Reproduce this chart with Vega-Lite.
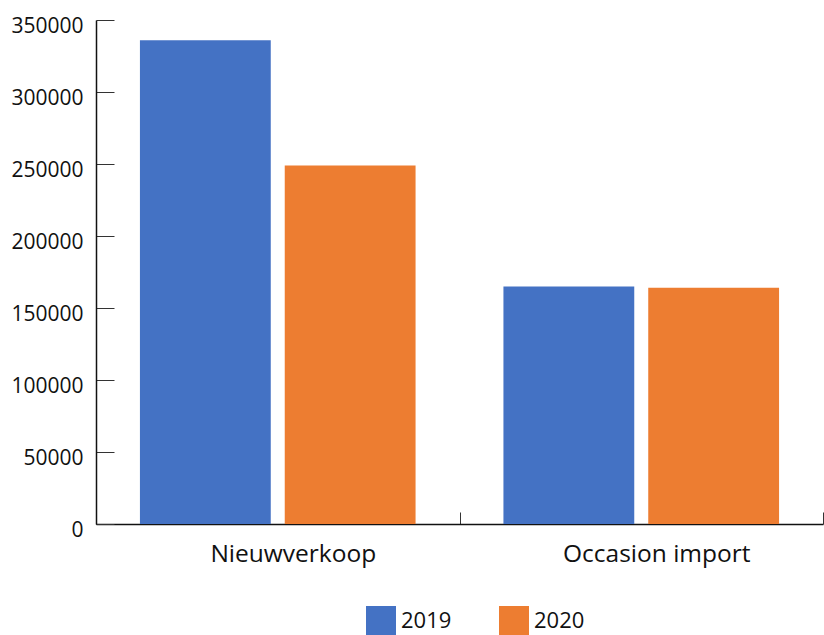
{
  "$schema": "https://vega.github.io/schema/vega-lite/v6.json",
  "autosize": "none",
  "width": 727,
  "height": 504,
  "padding": {"left": 96, "top": 20, "right": 1, "bottom": 111},
  "background": "white",
  "config": {
    "view": {"stroke": null},
    "font": "Open Sans"
  },
  "data": {
    "values": [
      {"categorie": "Nieuwverkoop", "jaar": "2019", "aantal": 336000},
      {"categorie": "Nieuwverkoop", "jaar": "2020", "aantal": 249000},
      {"categorie": "Occasion import", "jaar": "2019", "aantal": 165000},
      {"categorie": "Occasion import", "jaar": "2020", "aantal": 164000}
    ]
  },
  "mark": {"type": "bar"},
  "encoding": {
    "x": {
      "field": "categorie",
      "type": "nominal",
      "sort": null,
      "scale": {"paddingInner": 0, "paddingOuter": 0},
      "axis": {
        "title": null,
        "labelAngle": 0,
        "labelLimit": 0,
        "labelFont": "Open Sans",
        "labelFontSize": 24.5,
        "labelColor": "#111111",
        "labelPadding": 30,
        "labelOffset": 15,
        "tickBand": "extent",
        "tickSize": -12,
        "tickColor": "#333333",
        "domainColor": "#111111",
        "domainWidth": 1.5,
        "grid": false
      }
    },
    "xOffset": {
      "field": "jaar",
      "type": "nominal",
      "scale": {"paddingInner": 0.0966, "paddingOuter": 0.3034}
    },
    "y": {
      "field": "aantal",
      "type": "quantitative",
      "scale": {"domain": [0, 350000], "nice": false},
      "axis": {
        "title": null,
        "values": [0, 50000, 100000, 150000, 200000, 250000, 300000, 350000],
        "format": "d",
        "labelFont": "Open Sans",
        "labelFontSize": 21,
        "labelColor": "#111111",
        "tickSize": -18,
        "labelPadding": 31,
        "labelOffset": 6,
        "tickColor": "#333333",
        "domainColor": "#111111",
        "domainWidth": 1.5,
        "grid": false
      }
    },
    "color": {
      "field": "jaar",
      "type": "nominal",
      "scale": {"domain": ["2019", "2020"], "range": ["#4472C4", "#ED7D31"]},
      "legend": {
        "title": null,
        "orient": "none",
        "legendX": 270,
        "legendY": 586,
        "direction": "horizontal",
        "symbolType": "square",
        "symbolSize": 900,
        "symbolStrokeWidth": 0,
        "symbolOpacity": 1,
        "labelFont": "Open Sans",
        "labelFontSize": 22,
        "labelColor": "#111111",
        "labelOffset": 5,
        "columnPadding": 47,
        "padding": 0
      }
    }
  }
}
